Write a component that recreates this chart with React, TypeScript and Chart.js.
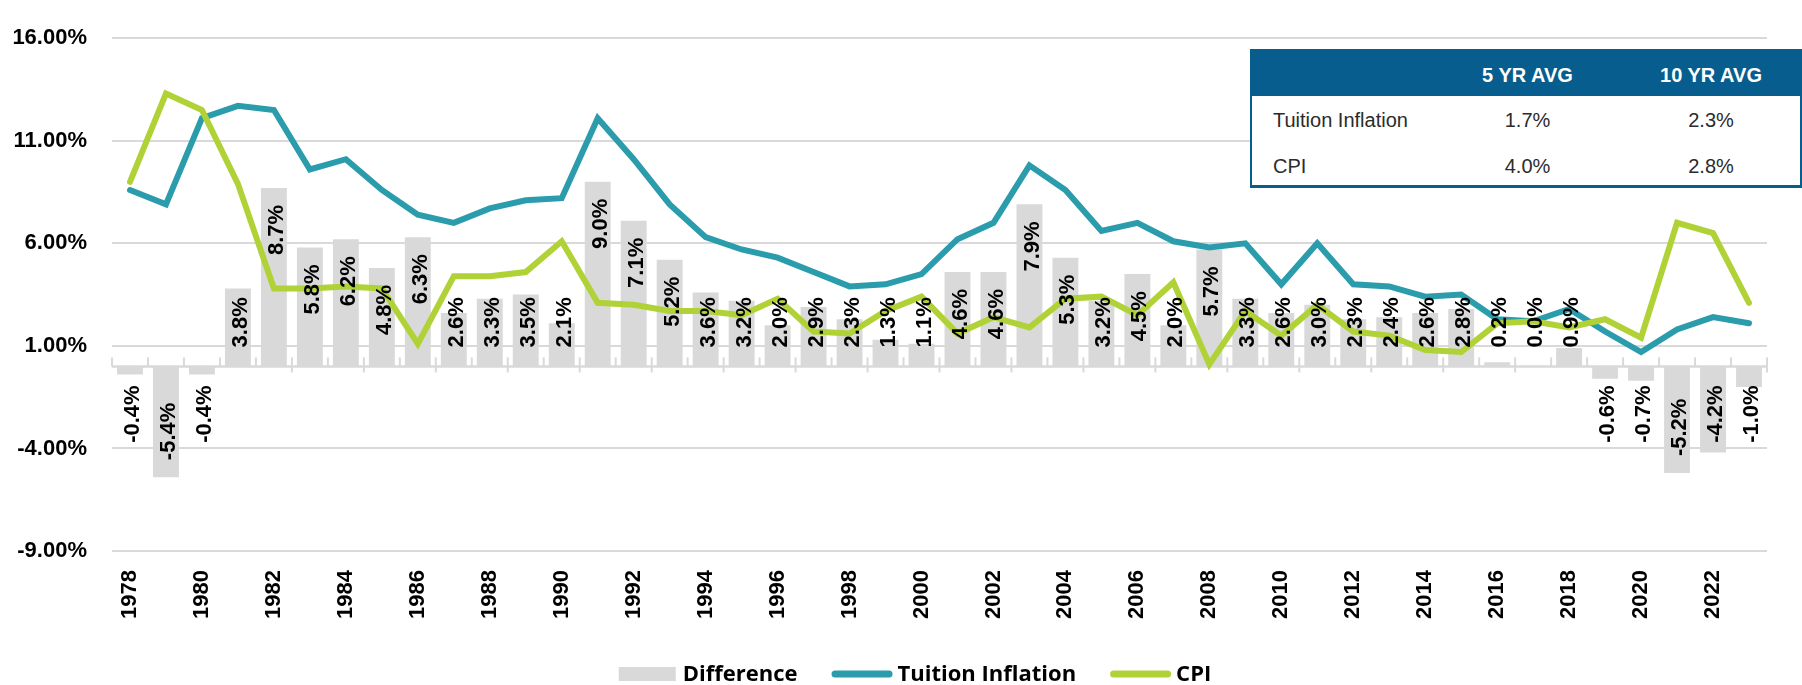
import React, { useEffect, useRef } from "react";
import { Chart, registerables } from "chart.js";

Chart.register(...registerables);

const years = [
  "1978", "1979", "1980", "1981", "1982", "1983", "1984", "1985", "1986", "1987",
  "1988", "1989", "1990", "1991", "1992", "1993", "1994", "1995", "1996", "1997",
  "1998", "1999", "2000", "2001", "2002", "2003", "2004", "2005", "2006", "2007",
  "2008", "2009", "2010", "2011", "2012", "2013", "2014", "2015", "2016", "2017",
  "2018", "2019", "2020", "2021", "2022", "2023",
];

const tuitionInflation = [
  8.6, 7.9, 12.1, 12.7, 12.5, 9.6, 10.1, 8.6, 7.4, 7.0,
  7.7, 8.1, 8.2, 12.1, 10.1, 7.9, 6.3, 5.7, 5.3, 4.6,
  3.9, 4.0, 4.5, 6.2, 7.0, 9.8, 8.6, 6.6, 7.0, 6.1,
  5.8, 6.0, 4.0, 6.0, 4.0, 3.9, 3.4, 3.5, 2.3, 2.2,
  2.8, 1.7, 0.7, 1.8, 2.4, 2.1,
];

const cpi = [
  9.0, 13.3, 12.5, 8.9, 3.8, 3.8, 3.9, 3.8, 1.1, 4.4,
  4.4, 4.6, 6.1, 3.1, 3.0, 2.7, 2.7, 2.5, 3.3, 1.7,
  1.6, 2.7, 3.4, 1.6, 2.4, 1.9, 3.3, 3.4, 2.5, 4.1,
  0.1, 2.7, 1.5, 3.0, 1.7, 1.5, 0.8, 0.7, 2.1, 2.2,
  1.9, 2.3, 1.4, 7.0, 6.5, 3.1,
];

const difference = [
  -0.4, -5.4, -0.4, 3.8, 8.7, 5.8, 6.2, 4.8, 6.3, 2.6,
  3.3, 3.5, 2.1, 9.0, 7.1, 5.2, 3.6, 3.2, 2.0, 2.9,
  2.3, 1.3, 1.1, 4.6, 4.6, 7.9, 5.3, 3.2, 4.5, 2.0,
  5.7, 3.3, 2.6, 3.0, 2.3, 2.4, 2.6, 2.8, 0.2, 0.0,
  0.9, -0.6, -0.7, -5.2, -4.2, -1.0,
];

const yMin = -9;
const yMax = 16;
const yStep = 5;

const tableHeaders = ["5 YR AVG", "10 YR AVG"];
const tableRowLabels = ["Tuition Inflation", "CPI"];
const fiveYearAvg = ["1.7%", "4.0%"];
const tenYearAvg = ["2.3%", "2.8%"];

const GRAY = "#d9d9d9";
const TEAL = "#2a9cac";
const GREEN = "#b0d236";
const BLUE = "#065d8e";
const FONT = '"Liberation Sans", Arial, sans-serif';
const LEGEND_FONT = '"Open Sans", "Liberation Sans", Arial, sans-serif';

const axisPlugin = {
  id: "zeroAxis",
  beforeDatasetsDraw(chart: any) {
    const { ctx, chartArea, scales } = chart;
    const zero = scales.y.getPixelForValue(0);
    const n = years.length;
    const w = (chartArea.right - chartArea.left) / n;
    ctx.save();
    ctx.strokeStyle = GRAY;
    ctx.lineWidth = 2.5;
    ctx.beginPath();
    ctx.moveTo(chartArea.left, zero);
    ctx.lineTo(chartArea.right, zero);
    ctx.stroke();
    ctx.lineWidth = 2;
    for (let i = 0; i <= n; i++) {
      const bx = scales.x.getPixelForValue(Math.min(i, n - 1)) + (i === n ? w / 2 : -w / 2);
      ctx.beginPath();
      ctx.moveTo(bx, zero);
      ctx.lineTo(bx, zero - 9);
      ctx.stroke();
      const leftNeg = i > 0 && difference[i - 1] < 0;
      const rightNeg = i < n && difference[i] < 0;
      if ((i % 2 === 1 && !leftNeg && !rightNeg) || i === n) {
        ctx.beginPath();
        ctx.moveTo(bx, zero);
        ctx.lineTo(bx, zero + 6);
        ctx.stroke();
      }
    }
    ctx.restore();
  },
};

const barLabelPlugin = {
  id: "barLabels",
  afterDatasetsDraw(chart: any) {
    const { ctx, scales } = chart;
    const zero = scales.y.getPixelForValue(0);
    const meta = chart.getDatasetMeta(0);
    ctx.save();
    ctx.font = `bold 22px ${FONT}`;
    ctx.fillStyle = "#000";
    ctx.textBaseline = "middle";
    meta.data.forEach((el: any, i: number) => {
      const v = difference[i];
      const txt = v.toFixed(1) + "%";
      const tw = ctx.measureText(txt).width;
      const len = Math.abs(el.y - zero);
      const d = Math.max(len - 17, 19 + tw);
      ctx.save();
      if (v >= 0) {
        ctx.translate(el.x + 3, zero - d);
        ctx.rotate(-Math.PI / 2);
        ctx.textAlign = "right";
      } else {
        ctx.translate(el.x + 3, zero + d);
        ctx.rotate(-Math.PI / 2);
        ctx.textAlign = "left";
      }
      ctx.fillText(txt, 0, 0);
      ctx.restore();
    });
    ctx.restore();
  },
};

const legendPlugin = {
  id: "customLegend",
  afterDraw(chart: any) {
    const { ctx } = chart;
    const ds = chart.data.datasets;
    ctx.save();
    ctx.font = `bold 22px ${LEGEND_FONT}`;
    ctx.textBaseline = "middle";
    const symW = [57, 61, 61];
    const gapAfterSym = [7, 5, 5];
    const gapBetween = 34;
    const widths = ds.map((d: any, i: number) => symW[i] + gapAfterSym[i] + ctx.measureText(d.label).width);
    const total = widths.reduce((a: number, b: number) => a + b, 0) + gapBetween * (ds.length - 1);
    let x = 915 - total / 2;
    const cy = 674;
    ds.forEach((d: any, i: number) => {
      if (d.type === "bar") {
        ctx.fillStyle = d.backgroundColor;
        ctx.fillRect(x, cy - 7, symW[i], 14);
      } else {
        ctx.strokeStyle = d.borderColor;
        ctx.lineWidth = 7;
        ctx.lineCap = "round";
        ctx.beginPath();
        ctx.moveTo(x + 3.5, cy);
        ctx.lineTo(x + symW[i] - 3.5, cy);
        ctx.stroke();
      }
      ctx.fillStyle = "#000";
      ctx.textAlign = "left";
      ctx.fillText(d.label, x + symW[i] + gapAfterSym[i], cy + 1);
      x += widths[i] + gapBetween;
    });
    ctx.restore();
  },
};

function ChartCanvas() {
  const ref = useRef<HTMLCanvasElement | null>(null);
  useEffect(() => {
    if (!ref.current) return;
    const chart = new Chart(ref.current, {
      type: "bar",
      data: {
        labels: years,
        datasets: [
          {
            type: "bar",
            label: "Difference",
            data: difference,
            backgroundColor: GRAY,
            barPercentage: 0.72,
            categoryPercentage: 1.0,
            order: 3,
          },
          {
            type: "line",
            label: "Tuition Inflation",
            data: tuitionInflation,
            borderColor: TEAL,
            backgroundColor: TEAL,
            borderWidth: 6,
            pointRadius: 0,
            tension: 0,
            borderCapStyle: "round",
            borderJoinStyle: "miter",
            order: 2,
          },
          {
            type: "line",
            label: "CPI",
            data: cpi,
            borderColor: GREEN,
            backgroundColor: GREEN,
            borderWidth: 6,
            pointRadius: 0,
            tension: 0,
            borderCapStyle: "round",
            borderJoinStyle: "miter",
            order: 1,
          },
        ],
      } as any,
      options: {
        animation: false,
        responsive: true,
        maintainAspectRatio: false,
        layout: { padding: { top: 20, right: 35, left: 0, bottom: 0 } },
        plugins: {
          legend: { display: false },
          tooltip: { enabled: false },
        },
        scales: {
          x: {
            offset: true,
            grid: { display: false, drawTicks: false },
            border: { display: false },
            ticks: {
              autoSkip: false,
              minRotation: 90,
              maxRotation: 90,
              padding: 19,
              color: "#000",
              font: { family: FONT, size: 22, weight: "bold" },
              callback: (_v: any, i: number) => (i % 2 === 0 ? years[i] : ""),
            },
            afterFit: (s: any) => {
              s.height = 134;
            },
          },
          y: {
            min: yMin,
            max: yMax,
            grid: { color: GRAY, lineWidth: 2, drawTicks: false },
            border: { display: false },
            ticks: {
              stepSize: yStep,
              padding: 25,
              color: "#000",
              font: { family: FONT, size: 22, weight: "bold" },
              callback: (v: any) => Number(v).toFixed(2) + "%",
            },
            afterFit: (s: any) => {
              s.width = 112;
            },
          },
        },
      } as any,
      plugins: [axisPlugin, barLabelPlugin, legendPlugin],
    });
    return () => chart.destroy();
  }, []);
  return <canvas ref={ref} />;
}

function AvgTable() {
  const cell: React.CSSProperties = {
    position: "absolute",
    transform: "translate(-50%, -50%)",
    whiteSpace: "nowrap",
  };
  return (
    <div
      style={{
        position: "absolute",
        left: 1250,
        top: 49,
        width: 552,
        height: 139,
        background: "#fff",
        fontFamily: FONT,
      }}
    >
      <div style={{ position: "absolute", left: 0, top: 0, width: 552, height: 47, background: BLUE }} />
      <div
        style={{
          position: "absolute",
          left: 0,
          top: 47,
          width: 552,
          height: 92,
          boxSizing: "border-box",
          borderLeft: `2px solid ${BLUE}`,
          borderRight: `2px solid ${BLUE}`,
          borderBottom: `3px solid ${BLUE}`,
        }}
      />
      <span style={{ ...cell, left: 277.5, top: 26, color: "#fff", fontWeight: 700, fontSize: 20 }}>{tableHeaders[0]}</span>
      <span style={{ ...cell, left: 461, top: 26, color: "#fff", fontWeight: 700, fontSize: 20 }}>{tableHeaders[1]}</span>
      {tableRowLabels.map((lab, r) => (
        <React.Fragment key={lab}>
          <span
            style={{
              position: "absolute",
              left: 23,
              top: 71 + r * 46,
              transform: "translateY(-50%)",
              fontSize: 20,
              color: "#2b2b2b",
              whiteSpace: "nowrap",
            }}
          >
            {lab}
          </span>
          <span style={{ ...cell, left: 277.5, top: 71 + r * 46, fontSize: 20, color: "#2b2b2b" }}>{fiveYearAvg[r]}</span>
          <span style={{ ...cell, left: 461, top: 71 + r * 46, fontSize: 20, color: "#2b2b2b" }}>{tenYearAvg[r]}</span>
        </React.Fragment>
      ))}
    </div>
  );
}

export default function App() {
  return (
    <div
      style={{
        position: "fixed",
        left: 0,
        top: 0,
        width: 1802,
        height: 685,
        background: "#fff",
        overflow: "hidden",
      }}
    >
      <ChartCanvas />
      <AvgTable />
    </div>
  );
}
